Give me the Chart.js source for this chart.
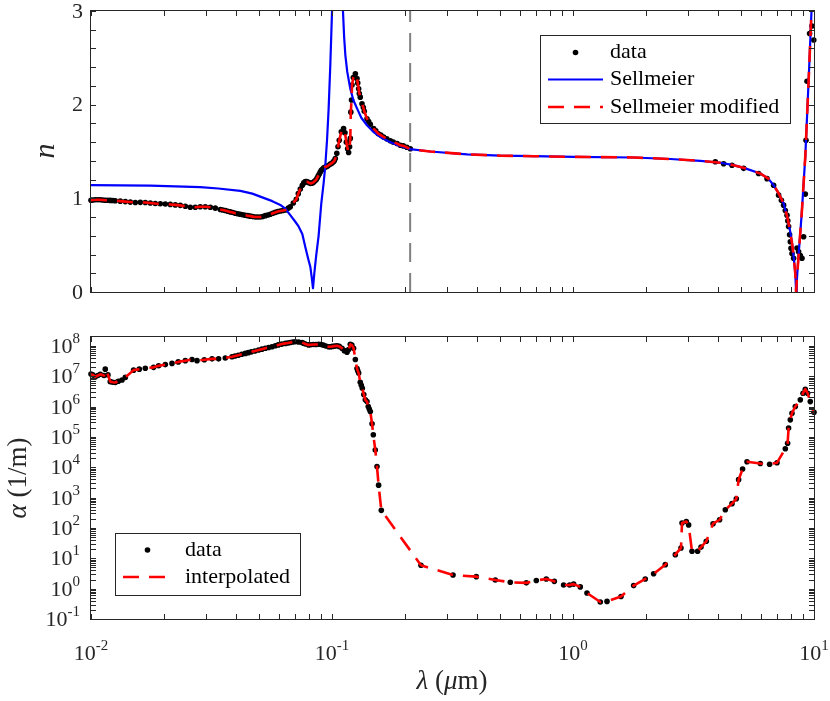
<!DOCTYPE html>
<html>
<head>
<meta charset="utf-8">
<title>n and alpha vs wavelength</title>
<script src="https://cdn.jsdelivr.net/npm/chart.js@4.4.1/dist/chart.umd.min.js"></script>
<style>
body { margin: 0; background: #fff; }
#wrap { position: relative; width: 830px; height: 701px; }
canvas { position: absolute; left: 0; top: 0; }
</style>
</head>
<body>
<div id="wrap">
  <canvas id="nChart" width="830" height="701"></canvas>
  <canvas id="aChart" width="830" height="701"></canvas>
</div>
<script>
// ---- data ----
let lamTicks = [0.01, 0.1, 1, 10];
let nTicks = [0, 1, 2, 3];
let alphaTicks = [1e-1, 1e0, 1e1, 1e2, 1e3, 1e4, 1e5, 1e6, 1e7, 1e8];
let alphaMax = 1.95e8;
let nSeries = ['data', 'Sellmeier', 'Sellmeier modified'];
let alphaSeries = ['data', 'interpolated'];
let cutoffLam = [0.211];

let nDataLam = [0.0100, 0.01017, 0.01042, 0.01067, 0.01093, 0.01119, 0.01146, 0.01174, 0.01202, 0.01231,
    0.01261, 0.01323, 0.01388, 0.01456, 0.01527,
    0.01602, 0.01680, 0.01762, 0.01848, 0.01939, 0.02034, 0.02133, 0.02238, 0.02347, 0.02462,
    0.02582, 0.02709, 0.02841, 0.02980, 0.03126, 0.03279, 0.03440, 0.03523, 0.03608, 0.03695,
    0.03784, 0.03876, 0.03970, 0.04066, 0.04164, 0.04265, 0.04368, 0.04473, 0.04581, 0.04692,
    0.04806, 0.04922, 0.05041, 0.05163, 0.05288, 0.05416, 0.05546, 0.05681, 0.05818, 0.05959,
    0.06103, 0.06251, 0.06401, 0.06587, 0.06714, 0.06909, 0.07110, 0.07248, 0.07388, 0.07530,
    0.07638, 0.07749, 0.07860, 0.07974, 0.08128, 0.08245, 0.08364, 0.08485, 0.08607, 0.08690,
    0.0877, 0.08858, 0.08943, 0.0903, 0.0912, 0.09247, 0.09381, 0.09515, 0.0965, 0.09839,
    0.09981, 0.1013, 0.1022, 0.1032, 0.1047, 0.1059, 0.1072, 0.1093, 0.1117, 0.1132,
    0.1147, 0.1161, 0.1172, 0.1183, 0.1191, 0.1197, 0.1205, 0.1211, 0.1226, 0.1250,
    0.1270, 0.1279, 0.1290, 0.1298, 0.1310, 0.1332, 0.1349, 0.1361, 0.1397, 0.1419,
    0.1442, 0.1488, 0.1520, 0.1556, 0.1594, 0.1637, 0.1688, 0.1746, 0.1796, 0.1862,
    0.1921, 0.1977, 0.2044, 0.2113,
    3.895, 4.216, 4.568, 5.106, 5.890, 6.383, 6.799, 7.131, 7.324, 7.480,
    7.603, 7.727, 7.786, 7.845, 7.921, 7.974, 8.027, 8.104, 8.230, 8.502,
    8.632, 8.774, 8.917, 9.054, 9.203, 9.265, 9.354, 9.588, 9.810, 9.98];
let nData = [0.98, 0.982, 0.985, 0.985, 0.985, 0.983, 0.98, 0.98, 0.978, 0.977,
    0.975, 0.97, 0.965, 0.96, 0.956,
    0.957, 0.955, 0.95, 0.945, 0.942, 0.94, 0.935, 0.93, 0.925, 0.915,
    0.905, 0.905, 0.91, 0.91, 0.905, 0.895, 0.88, 0.875, 0.87, 0.862,
    0.855, 0.848, 0.84, 0.835, 0.83, 0.825, 0.82, 0.815, 0.81, 0.805,
    0.80, 0.80, 0.80, 0.805, 0.815, 0.822, 0.83, 0.84, 0.85, 0.86,
    0.865, 0.87, 0.875, 0.895, 0.91, 0.95, 0.99, 1.05, 1.10, 1.14,
    1.165, 1.18, 1.178, 1.17, 1.16, 1.162, 1.17, 1.185, 1.20, 1.22,
    1.24, 1.26, 1.28, 1.30, 1.31, 1.325, 1.335, 1.34, 1.35, 1.365,
    1.375, 1.39, 1.40, 1.425, 1.48, 1.55, 1.62, 1.71, 1.745, 1.70,
    1.60, 1.53, 1.49, 1.55, 1.64, 1.92, 2.05, 2.21, 2.29, 2.33,
    2.28, 2.23, 2.17, 2.12, 2.08, 2.01, 1.97, 1.93, 1.85, 1.82,
    1.79, 1.745, 1.72, 1.69, 1.675, 1.655, 1.635, 1.615, 1.60, 1.585,
    1.567, 1.56, 1.545, 1.53,
    1.39, 1.37, 1.354, 1.32, 1.265, 1.21, 1.14, 1.034, 0.98, 0.927,
    0.87, 0.82, 0.76, 0.70, 0.61, 0.536, 0.466, 0.41, 0.36, 0.47,
    0.43, 0.39, 0.36, 0.59, 1.045, 1.62, 2.25, 2.76, 2.84, 2.69];

let sellLam = [0.0100, 0.01762, 0.02841, 0.03374, 0.04164, 0.04670, 0.05137, 0.05654, 0.06103, 0.06401,
    0.06714, 0.07043, 0.07268, 0.07530, 0.07749, 0.07974, 0.08128, 0.08245, 0.0834, 0.08446,
    0.08607, 0.08799, 0.09030, 0.09229, 0.09381, 0.09535, 0.09681, 0.09839, 0.1000, 0.1013,
    0.1032, 0.1072, 0.1093, 0.1111, 0.1123, 0.1136, 0.1157, 0.1191, 0.1226, 0.1270,
    0.1323, 0.1397, 0.1484, 0.1586, 0.1713, 0.1862, 0.2113, 0.2558, 0.3633, 0.4993,
    0.6863, 1.006, 1.785, 2.533, 3.375, 4.086, 4.639, 5.188, 5.987, 6.463,
    6.799, 7.111, 7.480, 7.749, 7.974, 8.128, 8.230, 8.364, 8.428, 8.485,
    8.607, 8.900, 9.203, 9.515, 9.746, 9.886];
let sellN = [1.14, 1.135, 1.12, 1.105, 1.08, 1.05, 1.01, 0.97, 0.93, 0.89,
    0.82, 0.75, 0.70, 0.62, 0.48, 0.35, 0.27, 0.15, 0.04, 0.20,
    0.40, 0.60, 0.95, 1.16, 1.35, 1.62, 1.95, 2.42, 2.99, 3.6,
    5, 5, 3.6, 2.99, 2.72, 2.53, 2.35, 2.17, 2.05, 1.96,
    1.86, 1.78, 1.71, 1.655, 1.61, 1.57, 1.525, 1.50, 1.47, 1.455,
    1.45, 1.443, 1.436, 1.42, 1.40, 1.38, 1.354, 1.32, 1.265, 1.21,
    1.14, 1.06, 0.945, 0.80, 0.64, 0.50, 0.38, 0.20, 0.0, 0.12,
    0.35, 0.85, 1.45, 2.3, 2.95, 3.3];

let alphaLam = [0.0100, 0.01017, 0.01042, 0.01067, 0.01093, 0.01132, 0.01146, 0.01176, 0.01202, 0.01231,
    0.01261, 0.01298, 0.01345, 0.01388,
    0.01502, 0.01586, 0.01680, 0.01819, 0.01908, 0.02034, 0.02168, 0.02302, 0.02462, 0.02625,
    0.02754, 0.02952, 0.03178, 0.03384, 0.03608, 0.03846, 0.03958, 0.04086, 0.04224, 0.04368,
    0.04495, 0.04625, 0.04787, 0.04959, 0.05118, 0.05288, 0.05456, 0.05637, 0.05818, 0.05987,
    0.06192, 0.06401, 0.06556, 0.06714, 0.06875, 0.07043, 0.07268, 0.07508, 0.07624, 0.07749,
    0.07996, 0.08166, 0.08364, 0.08575, 0.08799, 0.08995, 0.09204, 0.09425, 0.09681, 0.09858,
    0.1003, 0.1026, 0.1049, 0.1072, 0.1100, 0.1125, 0.1154, 0.1172, 0.1191, 0.1209,
    0.1229, 0.1250, 0.1270, 0.1279, 0.1290, 0.1310, 0.1323, 0.1336, 0.1355, 0.1375,
    0.1397, 0.1414, 0.1428, 0.1442, 0.1466, 0.1484, 0.1512, 0.1537, 0.1561, 0.1602,
    0.2340, 0.3178, 0.3970, 0.4760, 0.5493, 0.6402, 0.7043, 0.7749, 0.8365, 0.9141,
    0.9681, 1.006, 1.072, 1.143, 1.298, 1.384, 1.582, 1.785, 1.995, 2.160,
    2.415, 2.658, 2.806, 2.834, 2.952, 3.018, 3.117, 3.289, 3.398, 3.573,
    3.811, 4.058, 4.286, 4.568, 4.760, 4.866, 5.054, 5.272, 5.987, 6.544,
    7.024, 7.603, 7.772, 7.845, 7.974, 8.104, 8.364, 8.774, 9.004, 9.203,
    9.406, 9.652, 10.0];
let alphaData = [1.17e7, 1.1e7, 9.5e6, 1.05e7, 1.15e7, 1.05e7, 1.7e7, 1.1e7, 6.6e6, 6.3e6,
    6.2e6, 6.8e6, 7.5e6, 9.1e6,
    1.58e7, 1.7e7, 1.82e7, 1.95e7, 2.19e7, 2.4e7, 2.63e7, 2.95e7, 3.24e7, 3.55e7,
    3.24e7, 3.47e7, 3.72e7, 3.72e7, 3.98e7, 4.37e7, 4.62e7, 4.9e7, 5.25e7, 5.62e7,
    5.96e7, 6.31e7, 6.76e7, 7.24e7, 7.76e7, 8.32e7, 8.81e7, 9.33e7, 1e8, 1.07e8,
    1.14e8, 1.2e8, 1.24e8, 1.29e8, 1.33e8, 1.36e8, 1.33e8, 1.29e8, 1.22e8, 1.15e8,
    1.07e8, 1.08e8, 1.1e8, 1.11e8, 1.12e8, 1.1e8, 1.05e8, 9.89e7, 9.33e7, 9.33e7,
    9.55e7, 9.77e7, 1e8, 9.55e7, 8.32e7, 6.92e7, 6.17e7, 7.59e7, 1.12e8, 1.05e8,
    8.32e7, 3.55e7, 1.78e7, 1.51e7, 1.26e7, 6.3e6, 5.0e6, 4e6, 2.5e6, 1.66e6,
    1.45e6, 1e6, 8.3e5, 6.8e5, 2.7e5, 1.17e5, 3.7e4, 1.05e4, 2.57e3, 380,
    5.9, 2.82, 2.48, 1.93, 1.62, 1.55, 1.86, 2.09, 1.74, 1.32,
    1.32, 1.41, 1.14, 0.72, 0.363, 0.38, 0.55, 1.26, 2.09, 3.09,
    6.17, 13.2, 21.9, 145, 162, 126, 17, 17, 23.4, 36.3,
    138, 186, 398, 631, 912, 3890, 8700, 1.51e4, 1.32e4, 1.26e4,
    1.41e4, 4.07e4, 6.17e4, 1.95e5, 3.63e5, 6.03e5, 1e6, 1.66e6, 2.75e6, 3.72e6,
    2.75e6, 1.45e6, 6.46e5];

// ---- styling ----
const AXIS = '#262626';
const FONT = '"Liberation Serif", "Times New Roman", serif';
const BIG = '22px ' + FONT;
const SMALL = '15px ' + FONT;

function pts(xs, ys) {
    return xs.map((x, i) => ({ x: x, y: ys[i] }));
}

// the modified fit follows the data below the cutoff and the Sellmeier curve above it
let modPts = pts(nDataLam, nData).filter(p => p.x < cutoffLam[0])
    .concat(pts(sellLam, sellN).filter(p => p.x >= cutoffLam[0]));

function minorLog(min, max) {
    let out = [];
    for (let d = Math.floor(Math.log10(min)); d <= Math.ceil(Math.log10(max)); d++) {
        for (let k = 2; k <= 9; k++) {
            let v = k * Math.pow(10, d);
            if (v > min && v < max) out.push(v);
        }
    }
    return out;
}

function drawPow(ctx, exp, x, y, align) {
    ctx.font = BIG;
    let w1 = ctx.measureText('10').width;
    ctx.font = SMALL;
    let es = String(exp);
    let w2 = ctx.measureText(es).width;
    let x0 = align === 'center' ? x - (w1 + w2) / 2 : x - (w1 + w2);
    ctx.textAlign = 'left';
    ctx.textBaseline = 'alphabetic';
    ctx.font = BIG;
    ctx.fillText('10', x0, y);
    ctx.font = SMALL;
    ctx.fillText(es, x0 + w1, y - 10);
}

function drawRich(ctx, parts, cx, cy, rotate) {
    ctx.save();
    ctx.translate(cx, cy);
    if (rotate) ctx.rotate(-Math.PI / 2);
    let w = 0;
    parts.forEach(p => { ctx.font = p[1]; w += ctx.measureText(p[0]).width; });
    let x = -w / 2;
    ctx.textAlign = 'left';
    ctx.textBaseline = 'middle';
    parts.forEach(p => {
        ctx.font = p[1];
        ctx.fillText(p[0], x, 0);
        x += ctx.measureText(p[0]).width;
    });
    ctx.restore();
}

// box, inward ticks, labels and legend, matlab style
const framePlugin = {
    id: 'frame',
    afterDatasetsDraw(chart, args, o) {
        let ctx = chart.ctx;
        let a = chart.chartArea;
        let xs = chart.scales.x;
        let ys = chart.scales.y;
        ctx.save();
        ctx.strokeStyle = AXIS;
        ctx.fillStyle = AXIS;
        ctx.lineWidth = 1;
        let L = 5;

        ctx.beginPath();
        let xt = lamTicks.concat(minorLog(xs.min, xs.max));
        xt.forEach(v => {
            let p = Math.round(xs.getPixelForValue(v)) + 0.5;
            ctx.moveTo(p, a.bottom); ctx.lineTo(p, a.bottom - L);
            ctx.moveTo(p, a.top); ctx.lineTo(p, a.top + L);
        });
        let yt = o.yMajor.concat(o.yMinor);
        yt.forEach(v => {
            let p = Math.round(ys.getPixelForValue(v)) + 0.5;
            ctx.moveTo(a.left, p); ctx.lineTo(a.left + L, p);
            ctx.moveTo(a.right, p); ctx.lineTo(a.right - L, p);
        });
        ctx.stroke();
        ctx.strokeRect(a.left - 0.5, a.top - 0.5, a.right - a.left + 1, a.bottom - a.top + 1);

        // tick labels
        if (o.xLabels) {
            lamTicks.forEach(v => {
                drawPow(ctx, Math.round(Math.log10(v)), xs.getPixelForValue(v), a.bottom + 41, 'center');
            });
        }
        if (o.yLog) {
            o.yMajor.forEach(v => {
                drawPow(ctx, Math.round(Math.log10(v)), 80, ys.getPixelForValue(v) + 7, 'right');
            });
        } else {
            ctx.font = BIG;
            ctx.textAlign = 'right';
            ctx.textBaseline = 'middle';
            o.yMajor.forEach(v => ctx.fillText(String(v), 83, ys.getPixelForValue(v) + 1));
        }

        // axis titles
        drawRich(ctx, o.yTitle, o.yTitlePos[0], o.yTitlePos[1], true);
        if (o.xTitle) drawRich(ctx, o.xTitle, o.xTitlePos[0], o.xTitlePos[1], false);

        // legend
        let lg = o.legend;
        ctx.fillStyle = '#fff';
        ctx.fillRect(lg.box[0], lg.box[1], lg.box[2] - lg.box[0], lg.box[3] - lg.box[1]);
        ctx.strokeStyle = AXIS;
        ctx.lineWidth = 1;
        ctx.strokeRect(lg.box[0] + 0.5, lg.box[1] + 0.5, lg.box[2] - lg.box[0], lg.box[3] - lg.box[1]);
        lg.items.forEach((di, r) => {
            let ds = chart.data.datasets[di];
            let y = lg.rows[r];
            if (ds.showLine === false) {
                ctx.fillStyle = ds.pointBackgroundColor;
                ctx.beginPath();
                ctx.arc((lg.sample[0] + lg.sample[1]) / 2, y, ds.pointRadius, 0, Math.PI * 2);
                ctx.fill();
            } else {
                ctx.save();
                ctx.strokeStyle = ds.borderColor;
                ctx.lineWidth = ds.borderWidth;
                ctx.setLineDash(ds.borderDash || []);
                ctx.beginPath();
                ctx.moveTo(lg.sample[0], y);
                ctx.lineTo(lg.sample[1], y);
                ctx.stroke();
                ctx.restore();
            }
            ctx.fillStyle = '#000';
            ctx.font = BIG;
            ctx.textAlign = 'left';
            ctx.textBaseline = 'middle';
            ctx.fillText(ds.label, lg.textX, y);
        });
        ctx.restore();
    }
};

function dotSet(label, data) {
    return {
        label: label, data: data, showLine: false,
        pointRadius: 2.8, pointBorderWidth: 0,
        pointBackgroundColor: '#000', borderColor: '#000',
        clip: 6, order: 5
    };
}

function lineSet(label, data, color, width, dash, order) {
    return {
        label: label, data: data.slice().sort((p, q) => p.x - q.x),
        borderColor: color, borderWidth: width,
        borderDash: dash, pointRadius: 0, tension: 0,
        borderJoinStyle: 'round', clip: 0, order: order
    };
}

function commonOpts(pad, yScale, frame) {
    return {
        responsive: false,
        animation: false,
        events: [],
        layout: { padding: pad },
        scales: {
            x: { type: 'logarithmic', min: lamTicks[0], max: lamTicks[lamTicks.length - 1], display: false, bounds: 'data' },
            y: yScale
        },
        plugins: {
            legend: { display: false },
            tooltip: { enabled: false },
            frame: frame
        }
    };
}

let nMinor = [];
for (let v = 0.2; v < 3; v += 0.2) {
    if (Math.abs(v - Math.round(v)) > 0.01) nMinor.push(v);
}

new Chart(document.getElementById('nChart'), {
    type: 'line',
    data: {
        datasets: [
            dotSet(nSeries[0], pts(nDataLam, nData)),
            lineSet(nSeries[1], pts(sellLam, sellN), '#0000ff', 2.2, [], 3),
            lineSet(nSeries[2], modPts, '#ff0000', 2.6, [16, 10], 1),
            lineSet('cutoff', [{ x: cutoffLam[0], y: nTicks[0] }, { x: cutoffLam[0], y: nTicks[nTicks.length - 1] }],
                '#808080', 2, [19, 11], 6)
        ]
    },
    options: commonOpts({ left: 91, right: 16, top: 11, bottom: 409 },
        { type: 'linear', min: nTicks[0], max: nTicks[nTicks.length - 1], display: false, bounds: 'data' },
        {
            xLabels: false, yLog: false, yMajor: nTicks, yMinor: nMinor,
            yTitle: [['n', 'italic 30px ' + FONT]], yTitlePos: [46, 151],
            legend: { box: [540, 35, 790, 123], rows: [52.5, 79.5, 107], sample: [548, 603], textX: 610, items: [0, 1, 2] }
        }),
    plugins: [framePlugin]
});

new Chart(document.getElementById('aChart'), {
    type: 'line',
    data: {
        datasets: [
            dotSet(alphaSeries[0], pts(alphaLam, alphaData)),
            lineSet(alphaSeries[1], pts(alphaLam, alphaData), '#ff0000', 2.6, [16, 10], 1)
        ]
    },
    options: commonOpts({ left: 91, right: 16, top: 337, bottom: 82 },
        { type: 'logarithmic', min: alphaTicks[0], max: alphaMax, display: false, bounds: 'data' },
        {
            xLabels: true, yLog: true, yMajor: alphaTicks, yMinor: minorLog(alphaTicks[0], alphaMax),
            yTitle: [['\u03b1', 'italic 27px ' + FONT], [' (1/m)', '27px ' + FONT]], yTitlePos: [19, 478],
            xTitle: [['\u03bb', 'italic 27px ' + FONT], [' (', '27px ' + FONT], ['\u03bc', 'italic 27px ' + FONT], ['m)', '27px ' + FONT]],
            xTitlePos: [452, 682],
            legend: { box: [115, 533, 300, 595], rows: [550, 577], sample: [123, 172], textX: 185, items: [0, 1] }
        }),
    plugins: [framePlugin]
});
</script>
</body>
</html>
